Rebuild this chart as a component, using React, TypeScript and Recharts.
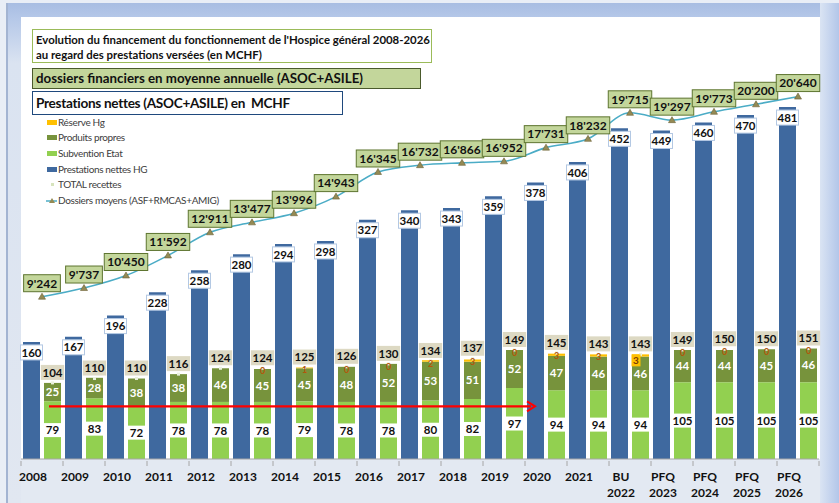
import { Bar, ComposedChart, LabelList, Line, ReferenceLine, XAxis, YAxis } from "recharts";

const categories = [
  "2008", "2009", "2010", "2011", "2012", "2013", "2014", "2015", "2016", "2017",
  "2018", "2019", "2020", "2021", "BU 2022", "PFQ 2023", "PFQ 2024", "PFQ 2025", "PFQ 2026",
];
const prestations = [160, 167, 196, 228, 258, 280, 294, 298, 327, 340, 343, 359, 378, 406, 452, 449, 460, 470, 481];
const subvention = [79, 83, 72, 78, 78, 78, 79, 78, 78, 80, 82, 97, 94, 94, 94, 105, 105, 105, 105];
const produits = [25, 28, 38, 38, 46, 45, 45, 48, 52, 53, 51, 52, 47, 46, 46, 44, 44, 45, 46];
const reserve: (number | null)[] = [null, null, null, null, null, 0, 1, 0, 0, 2, 3, 0, 3, 3, 3, 0, 0, 0, 0];
const totalRecettes = [104, 110, 110, 116, 124, 124, 125, 126, 130, 134, 137, 149, 145, 143, 143, 149, 150, 150, 151];
const dossiers = [
  9242, 9737, 10450, 11592, 12911, 13477, 13996, 14943, 16345, 16732,
  16866, 16952, 17731, 18232, 19715, 19297, 19773, 20200, 20640,
];
// the budget year has its reserve value highlighted in a yellow box
const highlightReserve = "BU 2022";

const data = categories.map((name, i) => ({
  name,
  prestations: prestations[i],
  subvention: subvention[i],
  produits: produits[i],
  reserve: reserve[i] ?? 0,
  total: totalRecettes[i],
  dossiers: dossiers[i],
}));

const FONT = "Lato, 'Liberation Sans', sans-serif";
const BLUE = "#3f699f";
const LIGHT_GREEN = "#92d050";
const OLIVE = "#77933c";
const ORANGE = "#ffc000";
const CYAN = "#4bacc6";
// the stacked bar sits right of the category centre (barSize 17 + gap 4)
const STACK_SHIFT = 10.5;

const fmt = (v: number) => String(v).replace(/\B(?=(\d{3})+(?!\d))/g, "'");
const textW = (s: string, size: number) =>
  s.split("").reduce((w, c) => w + (c === "'" ? 0.24 : 0.56) * size, 0);

const BlueLabel = (p: any) => {
  const cx = p.x + p.width / 2;
  const w = 22;
  const h = 15;
  return (
    <g>
      <rect x={cx - w / 2} y={p.y + 3} width={w} height={h} fill="#fff" stroke="#b3c8e3" />
      <text x={cx} y={p.y + 3 + h / 2} dy="0.36em" textAnchor="middle" fontFamily={FONT} fontWeight={700} fontSize={11.5} fill="#111">
        {p.value}
      </text>
    </g>
  );
};

const SubLabel = (p: any) => {
  const cx = p.x + p.width / 2;
  const cy = p.y + p.height / 2;
  const w = Math.max(p.width, textW(String(p.value), 11.5) + 3);
  return (
    <g>
      <rect x={cx - w / 2} y={cy - 7} width={w} height={14} fill="#fff" />
      <text x={cx} y={cy} dy="0.36em" textAnchor="middle" fontFamily={FONT} fontWeight={700} fontSize={11.5} fill="#111">
        {p.value}
      </text>
    </g>
  );
};

const ProdLabel = (p: any) => (
  <text x={p.x + p.width / 2} y={p.y + p.height / 2} dy="0.36em" textAnchor="middle" fontFamily={FONT} fontWeight={700} fontSize={11.5} fill="#fff">
    {p.value}
  </text>
);

const TotalDot = (p: any) => (
  <rect key={p.index} x={p.cx + STACK_SHIFT - 1.5} y={p.cy - 1.5} width={3} height={3} fill="#ebf1de" />
);

const TotalLabel = (p: any) => {
  const i = p.index;
  const cx = p.x + STACK_SHIFT;
  const top = p.y;
  const t = String(p.value);
  const w = textW(t, 11.5) + 4;
  const boxed = categories[i] === highlightReserve;
  return (
    <g>
      <rect x={cx - w / 2} y={top - 18} width={w} height={15} fill="#ddd9c3" />
      <text x={cx} y={top - 10.5} dy="0.36em" textAnchor="middle" fontFamily={FONT} fontWeight={700} fontSize={11.5} fill="#111">
        {t}
      </text>
      {reserve[i] !== null && !boxed && (
        <text x={cx} y={top + 2.5} dy="0.36em" textAnchor="middle" fontFamily={FONT} fontWeight={700} fontSize={9} fill="#b4560b">
          {reserve[i]}
        </text>
      )}
      {reserve[i] !== null && boxed && (
        <g>
          <rect x={cx - 9} y={top} width={9} height={12} fill={ORANGE} />
          <text x={cx - 4.5} y={top + 6} dy="0.36em" textAnchor="middle" fontFamily={FONT} fontWeight={700} fontSize={10} fill="#7a3d05">
            {reserve[i]}
          </text>
        </g>
      )}
    </g>
  );
};

const LineLabel = (p: any) => {
  const t = fmt(p.value);
  const w = textW(t, 12) + 7;
  const h = 17;
  return (
    <g>
      <rect x={p.x - w / 2} y={p.y - 5 - h} width={w} height={h} fill="#c3d69b" stroke="#5e7530" />
      <text x={p.x} y={p.y - 5 - h / 2} dy="0.36em" textAnchor="middle" fontFamily={FONT} fontWeight={700} fontSize={12} fill="#111">
        {t}
      </text>
    </g>
  );
};

const Triangle = (p: any) => (
  <polygon
    key={p.index}
    points={`${p.cx - 3.5},${p.cy + 2.5} ${p.cx + 3.5},${p.cy + 2.5} ${p.cx},${p.cy - 3.5}`}
    fill="#948a54"
    stroke="#6b6238"
    strokeWidth={0.6}
  />
);

const XTick = (p: any) => {
  const lines = String(p.payload.value).split(" ");
  const last = p.index === categories.length - 1;
  return (
    <g>
      <line x1={p.x - 21} x2={p.x - 21} y1={p.y} y2={p.y + 5} stroke="#a6a6a6" />
      {last && <line x1={p.x + 21} x2={p.x + 21} y1={p.y} y2={p.y + 5} stroke="#a6a6a6" />}
      {lines.map((l, k) => (
        <text key={k} x={p.x - 9} y={p.y + 16 + k * 16} dy="0.36em" textAnchor="middle" fontFamily={FONT} fontWeight={700} fontSize={12} fill="#111">
          {l}
        </text>
      ))}
    </g>
  );
};

const Arrow = (p: any) => {
  const x1 = p.x1 + 7;
  const x2 = p.x2 - 11;
  return (
    <g>
      <line x1={x1} y1={p.y1} x2={x2 - 4} y2={p.y2} stroke="#ff0000" strokeWidth={2.2} />
      <polyline points={`${x2 - 8},${p.y2 - 5} ${x2},${p.y2} ${x2 - 8},${p.y2 + 5}`} fill="none" stroke="#ff0000" strokeWidth={2} />
    </g>
  );
};

const legendItems = [
  { label: "Réserve Hg", kind: "rect", color: ORANGE },
  { label: "Produits propres", kind: "rect", color: OLIVE },
  { label: "Subvention Etat", kind: "rect", color: LIGHT_GREEN },
  { label: "Prestations nettes HG", kind: "rect", color: BLUE },
  { label: "TOTAL recettes", kind: "dot", color: "#d7e4bd" },
  { label: "Dossiers moyens (ASF+RMCAS+AMIG)", kind: "line", color: CYAN },
];

const LegendBox = () => (
  <div style={{ position: "absolute", left: 45, top: 114, fontFamily: FONT, fontSize: 10, letterSpacing: -0.35, color: "#404040" }}>
    {legendItems.map((it) => (
      <div key={it.label} style={{ display: "flex", alignItems: "center", height: 15.6 }}>
        <svg width={13} height={10} style={{ marginRight: 0 }}>
          {it.kind === "rect" && <rect x={2} y={3} width={10} height={5} fill={it.color} />}
          {it.kind === "dot" && <rect x={6} y={4} width={3} height={3} fill={it.color} />}
          {it.kind === "line" && (
            <g>
              <line x1={1} x2={12} y1={6} y2={6} stroke={it.color} strokeWidth={1.5} />
              <polygon points="4,8 10,8 7,3" fill="#948a54" />
            </g>
          )}
        </svg>
        <span>{it.label}</span>
      </div>
    ))}
  </div>
);

const boxText = { fontFamily: FONT, fontWeight: 700, color: "#111", position: "absolute" as const, boxSizing: "border-box" as const, whiteSpace: "nowrap" as const };

export default function App() {
  return (
    <div style={{ position: "absolute", left: 0, top: 0, width: 839, height: 503, background: "#e9eef6", overflow: "hidden" }}>
      <div style={{ position: "absolute", left: 6, top: 3, width: 833, height: 500, borderLeft: "2px solid #a3b4d2", background: "linear-gradient(to bottom, #a8bde2 0px, #b4c7e8 14px, #dae3f1 60px, #e1e7f1 100%)" }} />
      <div style={{ position: "absolute", left: 820, top: 3, width: 19, height: 500, background: "linear-gradient(to right, #dae4f3, #b3c6e9)" }} />
      <div style={{ position: "absolute", left: 21, top: 17, width: 799, height: 442, background: "#fff" }} />
      <div style={{ position: "absolute", left: 21, top: 459, width: 799, height: 44, background: "#e3e9f2" }} />
      <div style={{ position: "absolute", left: 0, top: 0 }}>
        <ComposedChart width={839} height={503} data={data} margin={{ top: 20, right: 20, bottom: 0, left: 21 }} barSize={17} barGap={4}>
          <XAxis dataKey="name" height={44} tickSize={0} tick={<XTick />} interval={0} axisLine={{ stroke: "#a6a6a6" }} tickLine={false} />
          <YAxis yAxisId="left" domain={[0, 600]} hide />
          <YAxis yAxisId="right" orientation="right" domain={[0, 25000]} hide />
          <Bar yAxisId="left" dataKey="prestations" stackId="p" fill={BLUE} isAnimationActive={false}>
            <LabelList dataKey="prestations" content={<BlueLabel />} />
          </Bar>
          <Bar yAxisId="left" dataKey="subvention" stackId="r" fill={LIGHT_GREEN} isAnimationActive={false}>
            <LabelList dataKey="subvention" content={<SubLabel />} />
          </Bar>
          <Bar yAxisId="left" dataKey="produits" stackId="r" fill={OLIVE} isAnimationActive={false}>
            <LabelList dataKey="produits" content={<ProdLabel />} />
          </Bar>
          <Bar yAxisId="left" dataKey="reserve" stackId="r" fill={ORANGE} isAnimationActive={false} />
          <ReferenceLine
            yAxisId="left"
            segment={[{ x: "2008", y: 72 }, { x: "2020", y: 72 }]}
            shape={<Arrow />}
          />
          <Line
            yAxisId="left"
            dataKey="total"
            stroke="none"
            dot={<TotalDot />}
            activeDot={false}
            isAnimationActive={false}
          >
            <LabelList dataKey="total" content={<TotalLabel />} />
          </Line>
          <Line
            yAxisId="right"
            type="monotone"
            dataKey="dossiers"
            stroke={CYAN}
            strokeWidth={1.6}
            dot={<Triangle />}
            activeDot={false}
            isAnimationActive={false}
          >
            <LabelList dataKey="dossiers" content={<LineLabel />} />
          </Line>
        </ComposedChart>
      </div>
      <LegendBox />
      <div style={{ ...boxText, left: 32, top: 29, width: 400, height: 34, border: "1px solid #9bbb59", background: "#fff", fontSize: 11.4, lineHeight: "15px", padding: "2px 0 0 3px" }}>
        Evolution du financement du fonctionnement de l'Hospice général 2008-2026
        <br />
        au regard des prestations versées (en MCHF)
      </div>
      <div style={{ ...boxText, left: 32, top: 68, width: 389, height: 21, border: "1px solid #4a5a2c", background: "#c3d69b", fontSize: 13.3, lineHeight: "19px", paddingLeft: 3 }}>
        dossiers financiers en moyenne annuelle (ASOC+ASILE)
      </div>
      <div style={{ ...boxText, left: 32, top: 91, width: 311, height: 24, border: "1px solid #1f497d", background: "#fff", fontSize: 13.6, letterSpacing: -0.3, lineHeight: "22px", paddingLeft: 3 }}>
        Prestations nettes (ASOC+ASILE) en&nbsp; MCHF
      </div>
    </div>
  );
}
